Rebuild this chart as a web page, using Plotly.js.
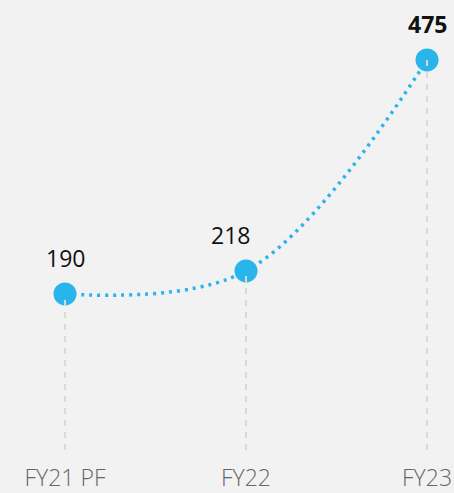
<!DOCTYPE html>
<html><head><meta charset="utf-8">
<script src="https://cdn.plot.ly/plotly-3.0.1.min.js"></script>
<style>html,body{margin:0;padding:0;background:#f2f2f2;}</style>
</head><body><div id="chart" style="width:454px;height:493px;"></div>
<script>
const categories = ["FY21 PF", "FY22", "FY23"];
const values = [190, 218, 475];
const labelText = ["190", "218", "<b>475</b>"];

const blue = "#29b5ec";
const traces = [{
  x: categories, y: values, type: "scatter", mode: "lines+markers",
  line: {color: blue, width: 3.5, dash: "3px,5px", shape: "spline", smoothing: 1},
  marker: {color: blue, size: 23},
  hoverinfo: "none", showlegend: false
}];
categories.forEach((c, i) => {
  traces.push({
    x: [c, c], y: [0, values[i]], type: "scatter", mode: "lines",
    line: {color: "#d9d9d9", width: 2, dash: "6px,6px"},
    hoverinfo: "none", showlegend: false
  });
});
const xshifts = [1, -16, 0];
const annotations = categories.map((c, i) => ({
  x: c, y: values[i], text: labelText[i], showarrow: false,
  yshift: 36, xshift: xshifts[i],
  font: {family: "Open Sans, sans-serif", size: 23, color: "#111"}
}));
Plotly.newPlot("chart", traces, {
  width: 454, height: 493,
  margin: {l: 0, r: 0, t: 0, b: 43},
  paper_bgcolor: "#f2f2f2", plot_bgcolor: "#f2f2f2",
  xaxis: {type: "category", range: [-0.359, 2.149], showgrid: false, zeroline: false,
    showline: false, ticks: "", ticklabelstandoff: 12,
    tickfont: {family: "Open Sans, sans-serif", size: 23, color: "#666", weight: 300}},
  yaxis: {range: [0, 548], visible: false, showgrid: false, zeroline: false},
  annotations: annotations
}, {displayModeBar: false, staticPlot: true});
</script></body></html>
